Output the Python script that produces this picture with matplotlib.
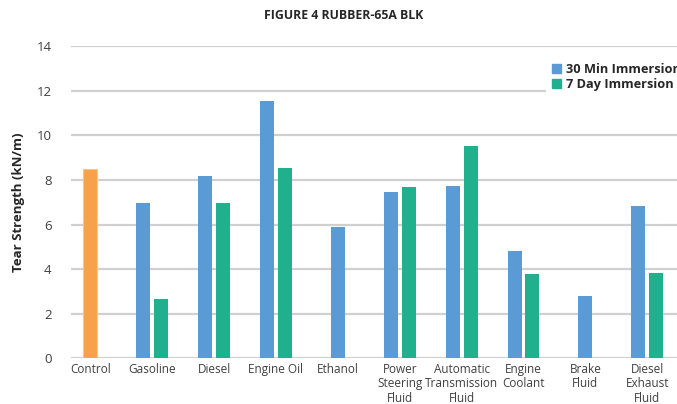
import matplotlib.pyplot as plt
import numpy as np
from matplotlib.patches import Patch

plt.rcParams['font.family'] = ['Open Sans', 'DejaVu Sans']

categories = ["Control", "Gasoline", "Diesel", "Engine Oil", "Ethanol",
              "Power\nSteering\nFluid", "Automatic\nTransmission\nFluid",
              "Engine\nCoolant", "Brake\nFluid", "Diesel\nExhaust\nFluid"]
control = [8.5, None, None, None, None, None, None, None, None, None]
min30 = [None, 6.97, 8.17, 11.55, 5.9, 7.46, 7.73, 4.82, 2.81, 6.84]
day7 = [None, 2.67, 6.96, 8.53, None, 7.68, 9.52, 3.79, None, 3.83]

c_blue = '#5B9BD5'
c_green = '#20B08E'
c_orange = '#F7A14B'

fig = plt.figure(figsize=(6.77, 4.04), dpi=100)
ax = fig.add_axes([0.105, 0.113, 0.895, 0.773])

w = 0.226
off = 0.145
for i in range(len(categories)):
    if control[i] is not None:
        ax.bar(i, control[i], w, color=c_orange, edgecolor='#FBC48E', linewidth=0.8, zorder=3)
    a, b = min30[i], day7[i]
    if a is not None and b is not None:
        ax.bar(i - off, a, w, color=c_blue, zorder=3)
        ax.bar(i + off, b, w, color=c_green, zorder=3)
    elif a is not None:
        ax.bar(i, a, w, color=c_blue, zorder=3)

ax.set_xlim(-0.31, 9.48)
ax.set_ylim(0, 14)
ax.set_yticks(np.arange(0, 15, 2))
ax.set_xticks(range(len(categories)))
ax.set_xticklabels(categories, fontsize=8.5, color='#404040', linespacing=1.15)
ax.tick_params(axis='y', labelsize=9.5, labelcolor='#404040', length=0, pad=14)
ax.tick_params(axis='x', length=0, pad=3)
ax.grid(axis='y', color='#D0D0D0', linewidth=1.6, zorder=0)
for s in ax.spines.values():
    s.set_visible(False)

ax.set_ylabel("Tear Strength (kN/m)", fontsize=9.5, fontweight='bold', color='#262626', labelpad=8)
fig.text(0.507, 0.962, "FIGURE 4 RUBBER-65A BLK", ha='center', va='center',
         fontsize=8.8, fontweight='bold', color='#262626')

handles = [Patch(color=c_blue), Patch(color=c_green)]
leg = fig.legend(handles, ["30 Min Immersion", "7 Day Immersion"], loc='upper left',
                 bbox_to_anchor=(0.797, 0.875), frameon=True, fancybox=False,
                 edgecolor='none', facecolor='white', framealpha=1,
                 prop={'weight': 'bold', 'size': 9.2}, handlelength=0.7,
                 handleheight=0.7, handletextpad=0.4, labelspacing=0.15, borderpad=0.5)
for t in leg.get_texts():
    t.set_color('#262626')

fig.savefig('out.png', dpi=100)
